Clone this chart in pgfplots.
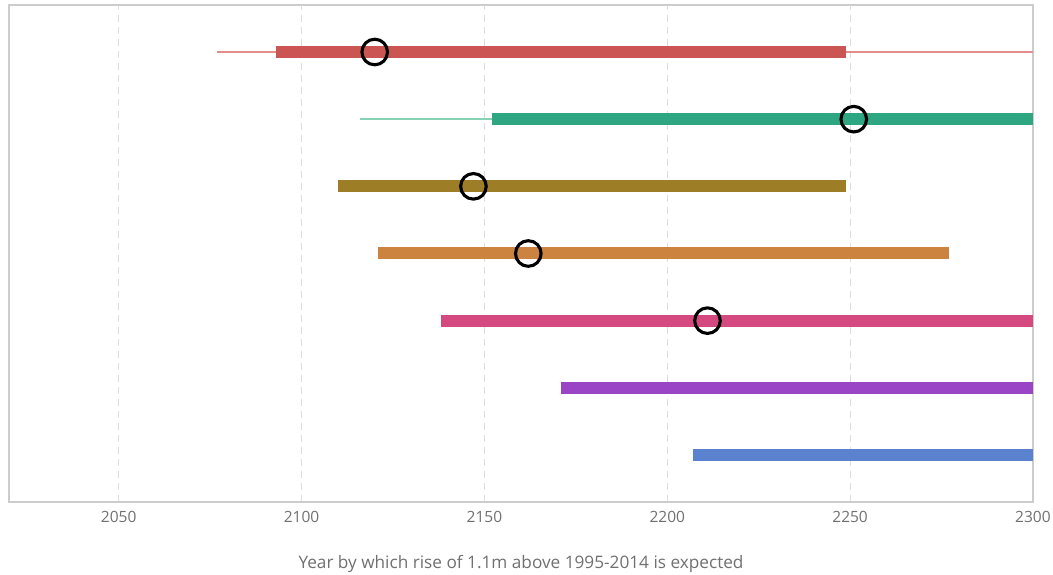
\documentclass[border=0pt]{standalone}
\usepackage{pgfplots}
\pgfplotsset{compat=1.18}
\usepackage{fontspec}
\setmainfont{Open Sans}

\definecolor{cRed}{HTML}{CB5553}
\definecolor{cRedL}{HTML}{E38C89}
\definecolor{cGreen}{HTML}{2FA682}
\definecolor{cGreenL}{HTML}{86D0B4}
\definecolor{cOlive}{HTML}{9E7D27}
\definecolor{cOrange}{HTML}{CC833F}
\definecolor{cPink}{HTML}{D4497F}
\definecolor{cPurple}{HTML}{9A44C6}
\definecolor{cBlue}{HTML}{5B82CE}
\definecolor{cText}{HTML}{707070}
\definecolor{cGrid}{HTML}{DDDDDD}
\definecolor{cFrame}{HTML}{CCCCCC}

\pgfplotsset{
  wide/.style={line width=12pt, line cap=butt, #1},
  narrow/.style={line width=1.5pt, line cap=butt, #1},
}

\begin{document}
\begin{tikzpicture}
\begin{axis}[
  at={(9pt,73pt)}, anchor=south west,
  scale only axis, width=1024pt, height=497pt,
  xmin=2020, xmax=2300, ymin=0.3, ymax=7.7,
  xtick={2050,2100,2150,2200,2250,2300},
  ytick=\empty,
  major tick length=0pt,
  xmajorgrids, grid style={cGrid, line width=1.2pt, dash pattern=on 7pt off 5pt},
  axis line style={cFrame, line width=1.6pt},
  tick label style={font=\fontsize{15.5}{18}\selectfont, text=cText},
  /pgf/number format/assume math mode=true,
  /pgf/number format/1000 sep={},
  xticklabel style={yshift=-6pt},
  xlabel={Year by which rise of 1.1m above 1995-2014 is expected},
  xlabel style={font=\fontsize{17.2}{20}\selectfont, text=cText, yshift=-26pt},
  clip=true,
]
% likely ranges (thin) and central ranges (thick)
\addplot[narrow=cRedL] coordinates {(2077,7) (2300,7)};
\addplot[wide=cRed] coordinates {(2093,7) (2249,7)};

\addplot[narrow=cGreenL] coordinates {(2116,6) (2152,6)};
\addplot[wide=cGreen] coordinates {(2152,6) (2300,6)};

\addplot[wide=cOlive] coordinates {(2110,5) (2249,5)};
\addplot[wide=cOrange] coordinates {(2121,4) (2277,4)};
\addplot[wide=cPink] coordinates {(2138,3) (2300,3)};
\addplot[wide=cPurple] coordinates {(2171,2) (2300,2)};
\addplot[wide=cBlue] coordinates {(2207,1) (2300,1)};

% median years
\addplot[only marks, mark=o, mark size=12.8pt,
  mark options={black, line width=3.1pt}] coordinates {
  (2120,7) (2251,6) (2147,5) (2162,4) (2211,3)
};
\end{axis}
\pgfresetboundingbox
\path (0,0) rectangle (1053pt,575pt);
\end{tikzpicture}
\end{document}
